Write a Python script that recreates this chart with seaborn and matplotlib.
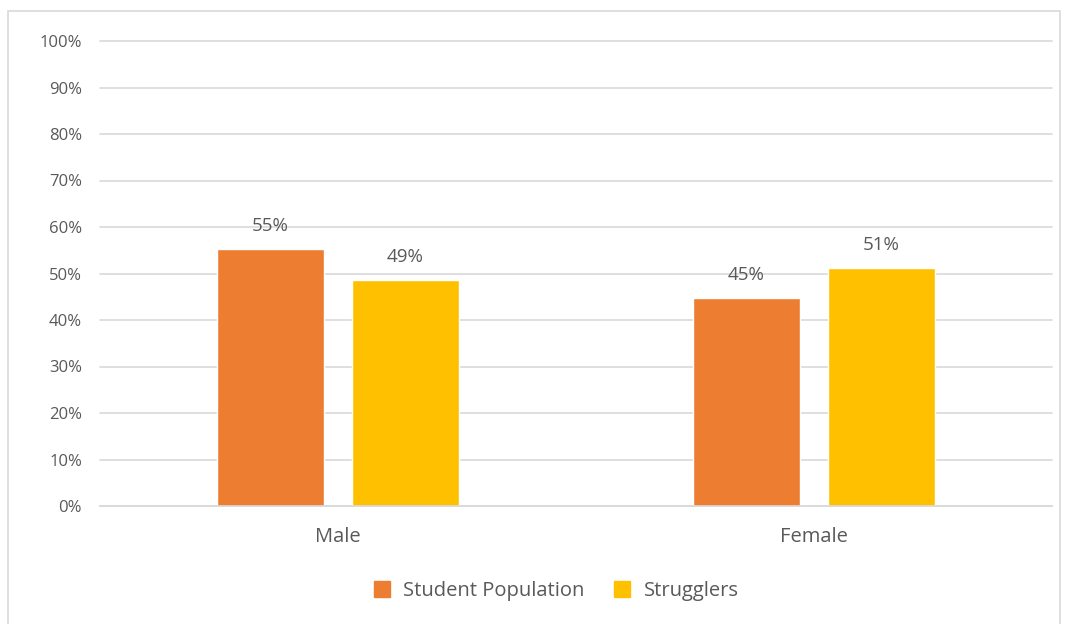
import pandas as pd
import matplotlib
matplotlib.use('Agg')
import matplotlib.pyplot as plt
import seaborn as sns
from matplotlib.lines import Line2D

# data
genders = ['Male', 'Female']
groups = ['Student Population', 'Strugglers']
student_pop = [0.553, 0.447]
strugglers = [0.486, 0.512]
colors = ['#ED7D31', '#FFC000']

df = pd.DataFrame({
    'gender': genders * 2,
    'group': [groups[0]] * 2 + [groups[1]] * 2,
    'value': student_pop + strugglers,
})

sns.set_style('white')
plt.rcParams['font.family'] = ['Open Sans', 'DejaVu Sans']
text_col = '#595959'

fig = plt.figure(figsize=(10.66, 6.24), dpi=100)
ax = fig.add_axes([100 / 1066, 1 - 506 / 624, 952 / 1066, 465 / 624])

sns.barplot(data=df, x='gender', y='value', hue='group', order=genders,
            hue_order=groups, palette=colors, width=0.567, gap=0.207,
            saturation=1, ax=ax, legend=False)

ax.set_ylim(0, 1)
ax.set_yticks([i / 10 for i in range(11)])
ax.set_yticklabels([f'{i * 10}%' for i in range(11)])
ax.yaxis.grid(True, color='#D9D9D9', linewidth=1.2)
ax.set_axisbelow(True)
for s in ['top', 'right', 'left']:
    ax.spines[s].set_visible(False)
ax.spines['bottom'].set_color('#D9D9D9')
ax.spines['bottom'].set_linewidth(1.2)
ax.tick_params(axis='y', length=0, pad=13, labelsize=12, labelcolor=text_col)
ax.tick_params(axis='x', length=0, pad=15, labelsize=14.5, labelcolor=text_col)
ax.set_xlabel('')
ax.set_ylabel('')
for lab in ax.get_yticklabels():
    lab.set_clip_on(False)
for line in ax.get_ygridlines():
    line.set_clip_on(False)

for cont in ax.containers:
    ax.bar_label(cont, labels=[f'{v * 100:.0f}%' for v in cont.datavalues],
                 padding=10, fontsize=13.5, color=text_col)

handles = [Line2D([], [], marker='s', linestyle='', markersize=11,
                  color=c) for c in colors]
fig.legend(handles, groups, loc='center', bbox_to_anchor=(550 / 1066, 1 - 591 / 624),
           ncol=2, frameon=False, fontsize=14.5, labelcolor=text_col,
           handletextpad=0.05, columnspacing=0.9)

# chart border
fig.add_artist(plt.Rectangle((8 / 1066, -0.05), 1052 / 1066, 1.05 - 11 / 624,
                             transform=fig.transFigure, fill=False,
                             edgecolor='#D9D9D9', linewidth=1.2))

fig.savefig('out.png', dpi=100)
